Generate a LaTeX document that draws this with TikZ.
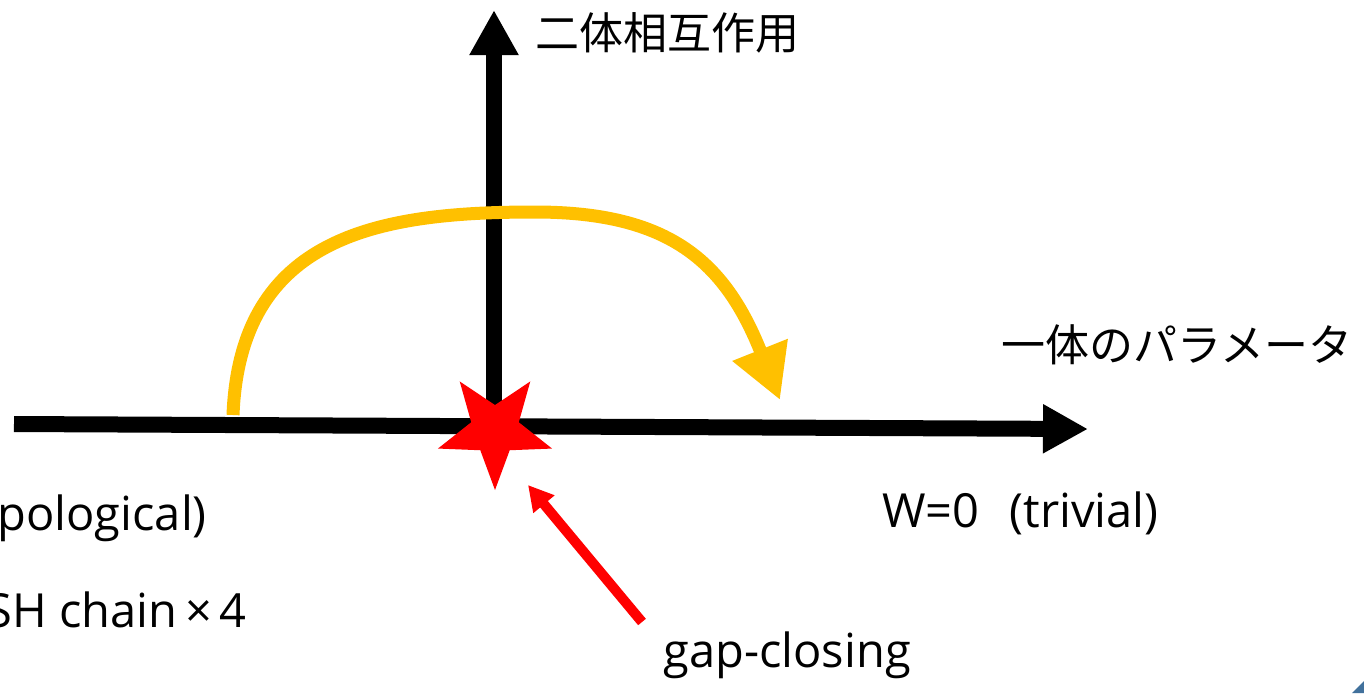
\documentclass[tikz,border=0pt]{standalone}
\usepackage{fontspec}
\setmainfont{Open Sans}
\newfontfamily\jpfont{Noto Sans CJK JP}
\usetikzlibrary{arrows.meta}
\definecolor{gold}{HTML}{FFC000}
\definecolor{cornerblue}{HTML}{41719C}
\tikzset{
  axisline/.style={line width=8pt, black, -{Triangle[length=22.5pt,width=23pt]}},
  swing/.style={line width=6.5pt, gold, -{Triangle[length=27pt,width=28pt]}},
  pointer/.style={line width=5pt, red, -{Triangle[length=12.5pt,width=13pt]}},
  jplabel/.style={font=\jpfont\fontsize{22}{26}\selectfont, inner sep=0pt},
  enlabel/.style={font=\fontsize{23.5}{28}\selectfont, inner sep=0pt}
}
\begin{document}
\begin{tikzpicture}[x=0.5pt,y=-0.5pt]
\useasboundingbox (0,0) rectangle (1364,693);
\clip (0,0) rectangle (1364,693);
% axes
\coordinate (xstart) at (14,424);
\coordinate (xend) at (1088,429);
\coordinate (ystart) at (494,413);
\coordinate (yend) at (494,10);
\draw[axisline] (xstart) -- (xend);
\draw[axisline] (ystart) -- (yend);
% labels
\node[jplabel, anchor=west] (ylab) at (535,33) {二体相互作用};
\node[jplabel, anchor=west] (xlab) at (1001,345) {一体のパラメータ};
\node[enlabel, anchor=west] (triv) at (882,513) {W=0\hspace{15pt}(trivial)};
\node[enlabel, anchor=west] (topo) at (-3,518) {pological)};
\node[enlabel, anchor=east] (chain) at (247,610) {SH chain\,×\,4};
\node[enlabel, anchor=west] (gap) at (663,655) {gap-closing};
% orange path
\coordinate (swingstart) at (233,415);
\coordinate (swingtop) at (535,212);
\coordinate (swingend) at (780,400);
\draw[swing] (swingstart) .. controls (240,235) and (380,212) .. (swingtop)
  .. controls (670,212) and (725,262) .. (swingend);
% star
\coordinate (star) at (495,430);
\begin{scope}[shift={(star)}]
\fill[red] (90:60) -- (126:25) -- (162:60) -- (198:25) -- (234:60) -- (270:25)
  -- (306:60) -- (342:25) -- (18:60) -- (54:25) -- cycle;
\end{scope}
% red pointer
\coordinate (gaptail) at (642,622);
\coordinate (gaptip) at (528,485);
\draw[pointer] (gaptail) -- (gaptip);
% corner mark
\fill[cornerblue] (1352,693) -- (1364,693) -- (1364,681) -- cycle;
\end{tikzpicture}
\end{document}
